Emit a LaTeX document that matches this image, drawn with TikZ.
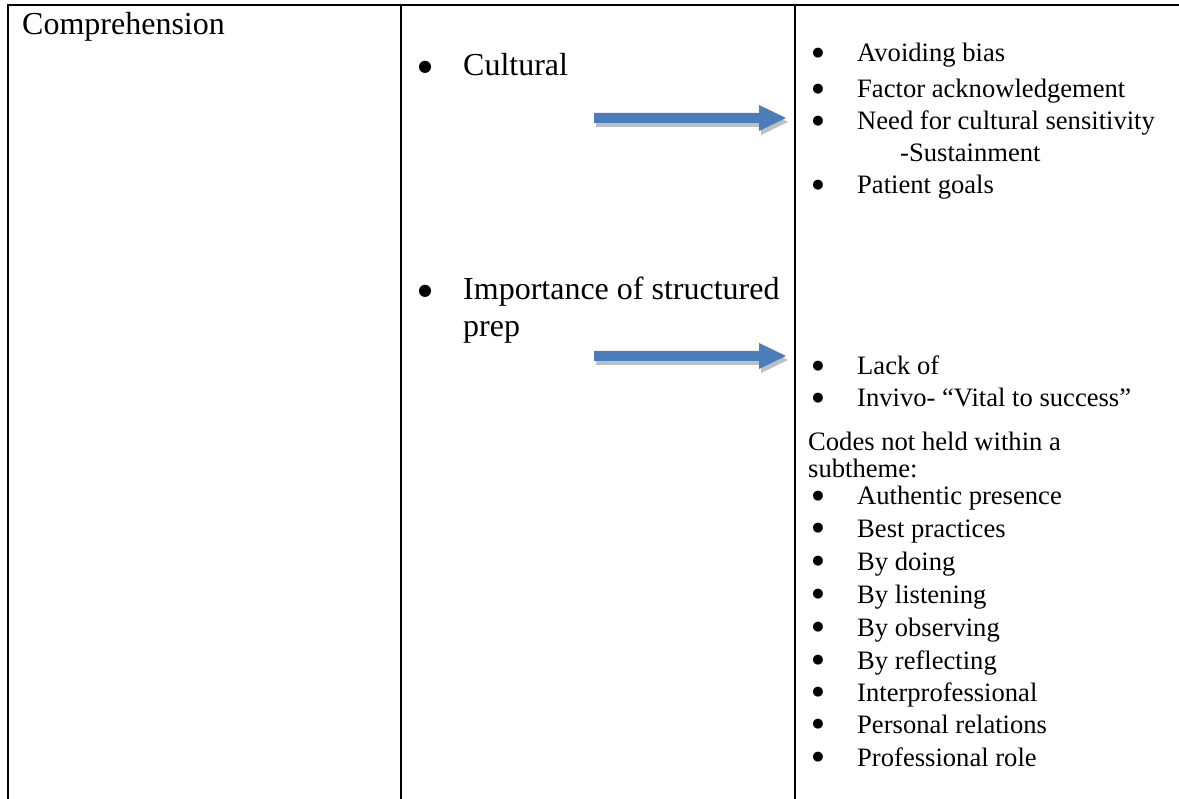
\documentclass[tikz,border=0pt]{standalone}
\usepackage{fontspec}
\setmainfont{Liberation Serif}
\newfontfamily\dotfont{DejaVu Sans}
\definecolor{arrowblue}{HTML}{4A7EBB}
\begin{document}
\begin{tikzpicture}[x=1pt,y=-1pt,
  rule/.style={line width=2.2pt, line cap=rect},
  big/.style={inner sep=0pt, anchor=base west, font=\fontsize{32}{38}\selectfont},
  small/.style={inner sep=0pt, anchor=base west, font=\fontsize{26.6}{32.6}\selectfont},
  bigdot/.style={inner sep=0pt, anchor=base, font=\dotfont\fontsize{16}{18}\selectfont},
  smalldot/.style={inner sep=0pt, anchor=base, font=\dotfont\fontsize{13}{15}\selectfont},
  arrowbody/.style={fill=arrowblue},
  arrowshade/.style={fill=black!25}]
\useasboundingbox (0,0) rectangle (1179,799);

% table rules
\draw[rule] (8,5) -- (1178,5);
\draw[rule] (8,5) -- (8,799);
\draw[rule] (401,5) -- (401,799);
\draw[rule] (795,5) -- (795,799);

% first column
\node[big] (theme) at (22,35) {Comprehension};

% second column
\node[bigdot] (b1) at (425,72) {●};
\node[big] (cult) at (463,76) {Cultural};
\node[bigdot] (b2) at (425,296) {●};
\node[big] (imp1) at (463,300) {Importance of structured};
\node[big] (imp2) at (463,337) {prep};

% third column: code lists
\foreach \y/\t/\n in {62/Avoiding bias/c1, 98/Factor acknowledgement/c2,
    130/Need for cultural sensitivity/c3, 194/Patient goals/c4,
    375/Lack of/p1, 407/Invivo- “Vital to success”/p2,
    505/Authentic presence/o1, 537/Best practices/o2, 570/By doing/o3,
    603/By listening/o4, 636/By observing/o5, 669/By reflecting/o6,
    701/Interprofessional/o7, 733/Personal relations/o8, 766/Professional role/o9}{
  \node[smalldot] at (818,\y-5.5) {●};
  \node[small] (\n) at (857,\y) {\t};
}
\node[small] (c3s) at (900,162) {-Sustainment};
\node[small] (codes1) at (808,451) {Codes not held within a};
\node[small] (codes2) at (808,478) {subtheme:};

% block arrows between the columns
\coordinate (a1s) at (594,118);
\coordinate (a1e) at (786,118);
\coordinate (a2s) at (594,356);
\coordinate (a2e) at (786,356);
\foreach \s/\e in {a1s/a1e, a2s/a2e}{
  \fill[arrowshade] ([shift={(2,4)}]\s) ++(0,-5) -- ([shift={(-27+2,-5+4)}]\e) -- ++(0,-8)
     -- ([shift={(2,4)}]\e) -- ([shift={(-27+2,13+4)}]\e) -- ++(0,-8)
     -- ([shift={(2,5+4)}]\s) -- cycle;
  \fill[arrowbody] (\s) ++(0,-5) -- ([shift={(-27,-5)}]\e) -- ++(0,-8)
     -- (\e) -- ([shift={(-27,13)}]\e) -- ++(0,-8)
     -- ([shift={(0,5)}]\s) -- cycle;
}
\end{tikzpicture}
\end{document}
